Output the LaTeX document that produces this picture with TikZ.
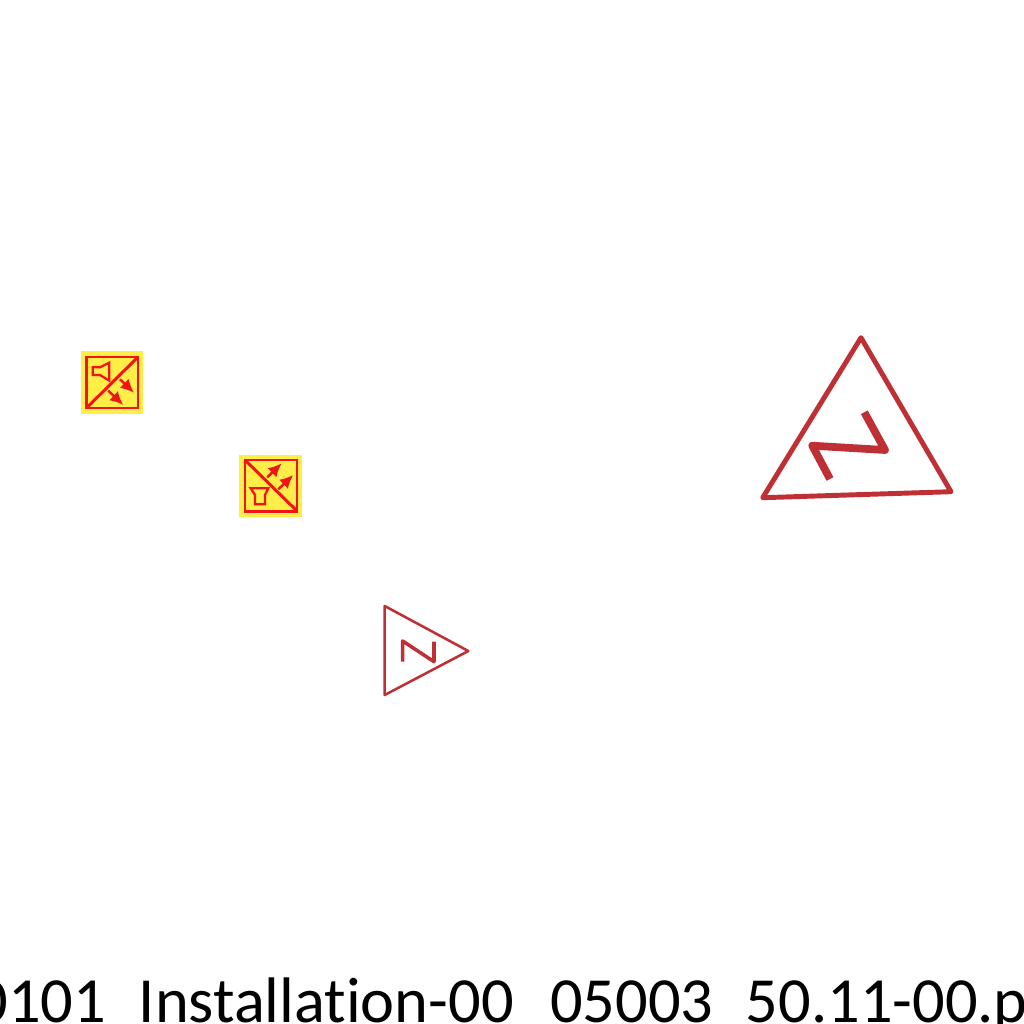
\documentclass[tikz,border=0pt]{standalone}
\usepackage{fontspec}
\setmainfont[Ligatures=NoCommon]{Carlito}
\usepackage{xcolor}
\usetikzlibrary{arrows.meta}
\definecolor{signred}{HTML}{BE3034}
\definecolor{iconred}{HTML}{F01414}
\definecolor{iconyellow}{HTML}{FFEE48}
\tikzset{
    iconback/.style={fill=iconyellow, draw=none},
    iconline/.style={draw=iconred, line width=0.85pt},
    iconthin/.style={draw=iconred, line width=0.65pt},
    iconarrow/.style={draw=iconred, line width=0.7pt, -{Latex[length=3.8pt,width=3.6pt]}},
    signthick/.style={draw=signred, line width=1.4pt, line join=round},
    signthin/.style={draw=signred, line width=0.72pt, line join=round},
    caption/.style={anchor=base west, inner sep=0pt, font=\fontsize{18.3pt}{20pt}\selectfont, text=black}
}

\begin{document}
\begin{tikzpicture}[x=0.01cm, y=-0.01cm]
        \clip (0,0) rectangle (1024,1024);
        \fill[white] (0,0) rectangle (1024,1024);

        % speaker icon
        \fill[iconback] (81,351) rectangle (143,414);
        \draw[iconline] (86.5,357) rectangle (138,408);
        \draw[iconline] (86.5,408) -- (138,357);
        \draw[iconthin] (92.7,367.3) -- (92.7,375) -- (100,375) -- (109.3,380.7) -- (109.3,362.7) -- (100,367.3) -- cycle;
        \draw[iconarrow] (120,379.3) -- (134,392.7);
        \draw[iconarrow] (108.3,390.7) -- (123.3,405);

        % horn icon
        \fill[iconback] (239,455) rectangle (302,517);
        \draw[iconline] (245,460) rectangle (297,511);
        \draw[iconline] (245,460) -- (297,511);
        \draw[iconthin] (250.7,488.3) -- (268.3,488.3) -- (265,495) -- (265,504.3) -- (255,504.3) -- (255,495) -- cycle;
        \draw[iconarrow] (267.3,477.3) -- (281.7,463.3);
        \draw[iconarrow] (278.3,489.3) -- (293.3,475);

        % small triangle
        \draw[signthin] (384.7,606) -- (468.3,651) -- (384.7,695) -- cycle;
        \draw[signthin, line width=1pt] (402.7,661.7) -- (402.7,641) -- (434,661.7) -- (434,641.7);

        % big triangle
        \draw[signthick] (861,337.7) -- (951,491.7) -- (762.7,497.7) -- cycle;
        \draw[signthick, line width=2.2pt] (864.3,412.3) -- (885,450) -- (812.3,445.7) -- (830,479);

        \node[caption] (filename) at (-25,1022) {0101\hspace{9.3pt}Installation-00\hspace{10.4pt}05003\hspace{9.3pt}50.11-00.p};
    \end{tikzpicture}
\end{document}
